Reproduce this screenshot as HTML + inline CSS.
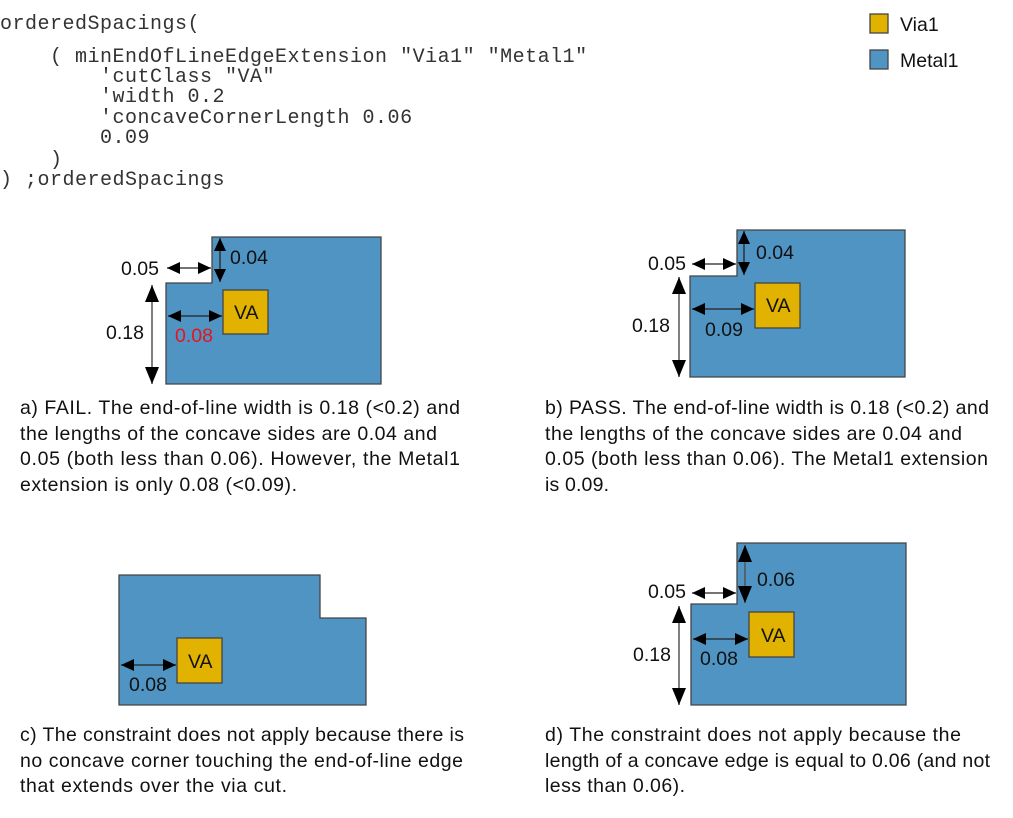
<!DOCTYPE html>
<html><head><meta charset="utf-8"><style>
html,body{margin:0;padding:0;background:#fff;}
svg{display:block;}
.m{font-family:"Liberation Mono",monospace;font-size:20px;letter-spacing:0.5px;fill:#333;}
.s{font-family:"Liberation Sans",sans-serif;font-size:19.5px;fill:#111;}
.met{fill:#4f94c3;stroke:#444;stroke-width:1.3;}
.via{fill:#e1b300;stroke:#444;stroke-width:1.3;}
.ar{stroke:#222;stroke-width:1.3;fill:none;marker-start:url(#h);marker-end:url(#h);}
.arv{stroke:#555;stroke-width:1.5;fill:none;marker-start:url(#hv);marker-end:url(#hv);}
</style></head><body>
<svg width="1013" height="818" viewBox="0 0 1013 818">
<defs>
<marker id="h" markerUnits="userSpaceOnUse" markerWidth="14" markerHeight="14" refX="13" refY="7" orient="auto-start-reverse"><path d="M0,1 L13,7 L0,13 Z" fill="#000"/></marker>
<marker id="hv" markerUnits="userSpaceOnUse" markerWidth="18" markerHeight="16" refX="17" refY="8" orient="auto-start-reverse"><path d="M0,1 L17,8 L0,15 Z" fill="#000"/></marker>
</defs>
<g class="m">
<text x="0" y="29">orderedSpacings(</text>
<text x="0" y="62" xml:space="preserve">    ( minEndOfLineEdgeExtension "Via1" "Metal1"</text>
<text x="0" y="82" xml:space="preserve">        'cutClass "VA"</text>
<text x="0" y="102" xml:space="preserve">        'width 0.2</text>
<text x="0" y="123" xml:space="preserve">        'concaveCornerLength 0.06</text>
<text x="0" y="143" xml:space="preserve">        0.09</text>
<text x="0" y="165" xml:space="preserve">    )</text>
<text x="0" y="185" xml:space="preserve">) ;orderedSpacings</text>
</g>
<rect x="870" y="14" width="18" height="19" class="via"/>
<text x="900" y="31" class="s">Via1</text>
<rect x="870" y="50" width="18" height="19" class="met"/>
<text x="900" y="67" class="s">Metal1</text>

<!-- a -->
<polygon points="212,237 381,237 381,384 166,384 166,283 212,283" class="met"/>
<rect x="223" y="290" width="45" height="44" class="via"/>
<text x="234" y="319" class="s">VA</text>
<line x1="167" y1="268" x2="211" y2="268" class="ar"/>
<line x1="220" y1="238" x2="220" y2="282" class="ar"/>
<line x1="152" y1="285" x2="152" y2="384" class="arv"/>
<line x1="168" y1="316" x2="222" y2="316" class="ar"/>
<text x="121" y="275" class="s">0.05</text>
<text x="230" y="264" class="s">0.04</text>
<text x="106" y="339" class="s">0.18</text>
<text x="175" y="342" class="s" style="fill:#e8141c">0.08</text>
<g class="s">
<text x="20" y="414" textLength="440">a) FAIL. The end-of-line width is 0.18 (&lt;0.2) and</text>
<text x="20" y="440" textLength="417">the lengths of the concave sides are 0.04 and</text>
<text x="20" y="465" textLength="440">0.05 (both less than 0.06). However, the Metal1</text>
<text x="20" y="491" textLength="277">extension is only 0.08 (&lt;0.09).</text>
</g>

<!-- b -->
<polygon points="737,230 905,230 905,377 690,377 690,276 737,276" class="met"/>
<rect x="755" y="283" width="45" height="45" class="via"/>
<text x="766" y="312" class="s">VA</text>
<line x1="692" y1="264" x2="736" y2="264" class="ar"/>
<line x1="744" y1="231" x2="744" y2="275" class="ar"/>
<line x1="679" y1="277" x2="679" y2="377" class="arv"/>
<line x1="692" y1="309" x2="754" y2="309" class="ar"/>
<text x="648" y="270" class="s">0.05</text>
<text x="756" y="259" class="s">0.04</text>
<text x="632" y="332" class="s">0.18</text>
<text x="705" y="336" class="s">0.09</text>
<g class="s">
<text x="545" y="414" textLength="444">b) PASS. The end-of-line width is 0.18 (&lt;0.2) and</text>
<text x="545" y="440" textLength="417">the lengths of the concave sides are 0.04 and</text>
<text x="545" y="465" textLength="443">0.05 (both less than 0.06). The Metal1 extension</text>
<text x="545" y="491" textLength="64">is 0.09.</text>
</g>

<!-- c -->
<polygon points="119,575 320,575 320,618 366,618 366,705 119,705" class="met"/>
<rect x="177" y="638" width="45" height="45" class="via"/>
<text x="188" y="668" class="s">VA</text>
<line x1="121" y1="665" x2="176" y2="665" class="ar"/>
<text x="129" y="691" class="s">0.08</text>
<g class="s">
<text x="20" y="741" textLength="444">c) The constraint does not apply because there is</text>
<text x="20" y="767" textLength="443">no concave corner touching the end-of-line edge</text>
<text x="20" y="792" textLength="267">that extends over the via cut.</text>
</g>

<!-- d -->
<polygon points="737,543 906,543 906,705 691,705 691,604 737,604" class="met"/>
<rect x="749" y="612" width="45" height="45" class="via"/>
<text x="761" y="642" class="s">VA</text>
<line x1="692" y1="593" x2="736" y2="593" class="ar"/>
<line x1="745" y1="545" x2="745" y2="603" class="arv"/>
<line x1="679" y1="606" x2="679" y2="705" class="arv"/>
<line x1="693" y1="639" x2="748" y2="639" class="ar"/>
<text x="648" y="598" class="s">0.05</text>
<text x="757" y="586" class="s">0.06</text>
<text x="633" y="661" class="s">0.18</text>
<text x="700" y="665" class="s">0.08</text>
<g class="s">
<text x="545" y="741" textLength="416">d) The constraint does not apply because the</text>
<text x="545" y="767" textLength="445">length of a concave edge is equal to 0.06 (and not</text>
<text x="545" y="792" textLength="140">less than 0.06).</text>
</g>
</svg>
</body></html>
